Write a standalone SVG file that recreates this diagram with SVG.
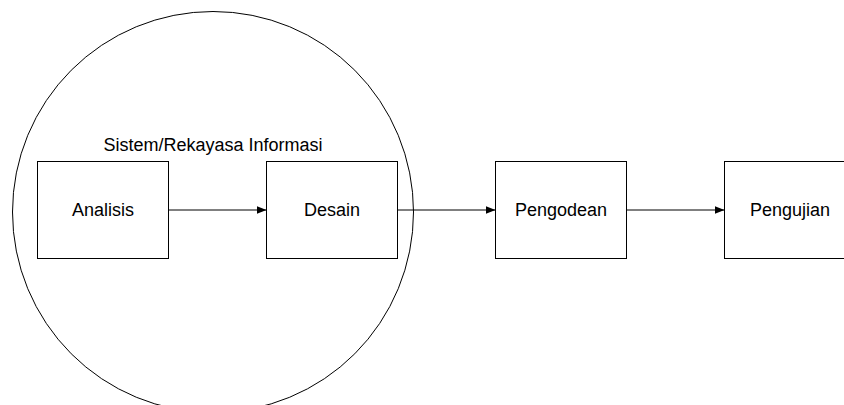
<svg xmlns="http://www.w3.org/2000/svg" width="844" height="405" viewBox="0 0 844 405">
<style>
.box{fill:#fff;stroke:#000;stroke-width:1}
.lbl{font-family:"Liberation Sans",Arial,sans-serif;font-size:18px;fill:#000;text-anchor:middle}
.con{stroke:#000;stroke-width:1;fill:none}
</style>
<defs>
<marker id="ah" viewBox="0 0 10 8" refX="10" refY="4" markerWidth="10" markerHeight="8" markerUnits="userSpaceOnUse" orient="auto">
<path d="M0,0 L10,4 L0,8 Z" fill="#000"/>
</marker>
</defs>
<rect width="844" height="405" fill="#fff"/>
<g id="scope">
<circle cx="213" cy="212" r="200.5" fill="none" stroke="#000" stroke-width="1"/>
<text class="lbl" x="213" y="151">Sistem/Rekayasa Informasi</text>
</g>
<g id="analisis">
<rect class="box" x="37.5" y="161.5" width="131" height="97"/>
<text class="lbl" x="103" y="216">Analisis</text>
</g>
<g id="desain">
<rect class="box" x="266.5" y="161.5" width="131" height="97"/>
<text class="lbl" x="332" y="216">Desain</text>
</g>
<g id="pengodean">
<rect class="box" x="495.5" y="161.5" width="131" height="97"/>
<text class="lbl" x="561" y="216">Pengodean</text>
</g>
<g id="pengujian">
<rect class="box" x="724.5" y="161.5" width="131" height="97"/>
<text class="lbl" x="790" y="216">Pengujian</text>
</g>
<g id="connectors">
<line class="con" x1="168.5" y1="210" x2="266.5" y2="210" marker-end="url(#ah)"/>
<line class="con" x1="397.5" y1="210" x2="495.5" y2="210" marker-end="url(#ah)"/>
<line class="con" x1="626.5" y1="210" x2="724.5" y2="210" marker-end="url(#ah)"/>
</g>
</svg>
